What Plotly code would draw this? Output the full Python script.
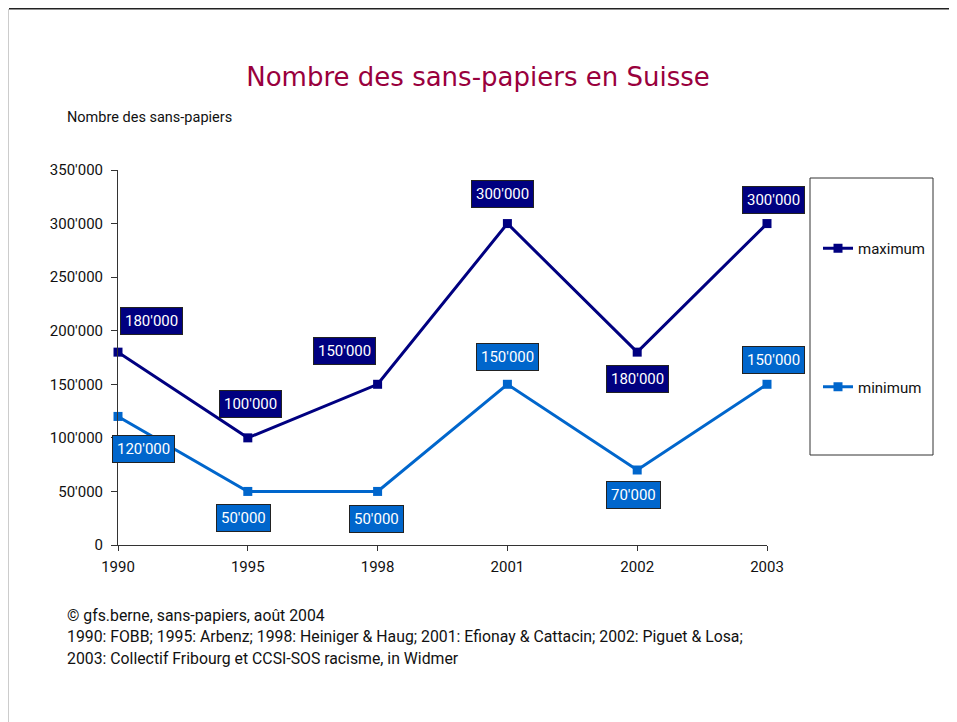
import plotly.graph_objects as go

years = ["1990", "1995", "1998", "2001", "2002", "2003"]
maximum = [180000, 100000, 150000, 300000, 180000, 300000]
minimum = [120000, 50000, 50000, 150000, 70000, 150000]
y_tickvals = [0, 50000, 100000, 150000, 200000, 250000, 300000, 350000]
y_ticktext = ["0", "50'000", "100'000", "150'000", "200'000", "250'000", "300'000", "350'000"]
title_text = "Nombre des sans-papiers en Suisse"
ytitle_text = "Nombre des sans-papiers"
footer_lines = [
    "© gfs.berne, sans-papiers, août 2004",
    "1990: FOBB; 1995: Arbenz; 1998: Heiniger & Haug; 2001: Efionay & Cattacin; 2002: Piguet & Losa;",
    "2003: Collectif Fribourg et CCSI-SOS racisme, in Widmer",
]

W, H = 957, 722
OFF = 8  # page body margin of the browser
L, R, T, B = 118, 767, 170, 545  # plot area in screenshot pixels
FONT = "Roboto, sans-serif"
TFONT = "DejaVu Sans, sans-serif"
C_MAX = "#000080"
C_MIN = "#0066CC"


def px(x):
    return (x - L) / (R - L)


def py(y):
    return (B - y) / (B - T)


def fmt(v):
    return f"{v:,}".replace(",", "'")


fig = go.Figure()
fig.add_trace(go.Scatter(x=years, y=maximum, name="maximum", mode="lines+markers",
                         line=dict(color=C_MAX, width=3), legendgroup="a",
                         marker=dict(symbol="square", size=9, color=C_MAX), cliponaxis=False))
fig.add_trace(go.Scatter(x=years, y=minimum, name="minimum", mode="lines+markers",
                         line=dict(color=C_MIN, width=3), legendgroup="b",
                         marker=dict(symbol="square", size=9, color=C_MIN), cliponaxis=False))

# data label offsets (pixels, dx right / dy down)
off_max = [(33, -31), (3, -34), (-33, -33), (-5, -30), (0, 27), (6, -24)]
off_min = [(25, 33), (-4, 27), (-1, 28), (0, -27), (-4, 25), (6, -24)]
ann = []
for series, offs, col in ((maximum, off_max, C_MAX), (minimum, off_min, C_MIN)):
    for i, (yv, (dx, dy)) in enumerate(zip(series, offs)):
        ann.append(dict(x=i, y=yv, xref="x", yref="y", text=fmt(yv), showarrow=False,
                        xanchor="center", yanchor="middle",
                        xshift=dx, yshift=-dy, bgcolor=col, bordercolor="#222222",
                        borderwidth=1, borderpad=4,
                        font=dict(family=FONT, size=15, color="white")))

ann.append(dict(x=px(65), y=py(118), xref="paper", yref="paper", text=ytitle_text,
                showarrow=False, xanchor="left", yanchor="middle",
                font=dict(family=FONT, size=14.5, color="#111111")))
for i, line in enumerate(footer_lines):
    ann.append(dict(x=px(65), y=py(615 + 21.5 * i), xref="paper", yref="paper", text=line,
                    showarrow=False, xanchor="left", yanchor="middle",
                    font=dict(family=FONT, size=15.8, color="#111111")))

shapes = [
    dict(type="rect", xref="paper", yref="paper", x0=px(810), x1=px(933), y0=py(455), y1=py(178),
         line=dict(color="#333333", width=1), fillcolor="rgba(0,0,0,0)"),
    dict(type="line", xref="paper", yref="paper", x0=px(9), x1=px(957 + OFF), y0=py(8.5), y1=py(8.5),
         line=dict(color="#222222", width=2)),
    dict(type="line", xref="paper", yref="paper", x0=px(8.5), x1=px(8.5), y0=py(9), y1=py(722 + OFF),
         line=dict(color="#cccccc", width=1)),
]

fig.update_layout(
    width=W, height=H,
    margin=dict(l=L - OFF, r=W - (R - OFF), t=T - OFF, b=H - (B - OFF)),
    paper_bgcolor="white", plot_bgcolor="white",
    title=dict(text=title_text, x=(478 - OFF) / W, xanchor="center",
               y=1 - (77 - OFF) / H, yanchor="middle",
               font=dict(family=TFONT, size=26, color="#99003D")),
    font=dict(family=FONT, size=15, color="#111111"),
    showlegend=True,
    legend=dict(x=px(818), y=py(232), xanchor="left", yanchor="top",
                bgcolor="rgba(0,0,0,0)", borderwidth=0, tracegroupgap=116,
                font=dict(family=FONT, size=15, color="#111111"), itemwidth=30),
    xaxis=dict(type="category", range=[0, 5], showgrid=False, zeroline=False,
               showline=True, linecolor="#333333", linewidth=1,
               ticks="outside", ticklen=5, tickcolor="#333333", ticklabelstandoff=3,
               tickfont=dict(family=FONT, size=15, color="#111111")),
    yaxis=dict(range=[0, 350000], tickvals=y_tickvals, ticktext=y_ticktext,
               showgrid=False, zeroline=False, showline=True, linecolor="#333333", linewidth=1,
               ticks="outside", ticklen=6, tickcolor="#333333", ticklabelstandoff=5,
               tickfont=dict(family=FONT, size=15, color="#111111")),
    annotations=ann,
    shapes=shapes,
)

fig.write_html("out.html")
